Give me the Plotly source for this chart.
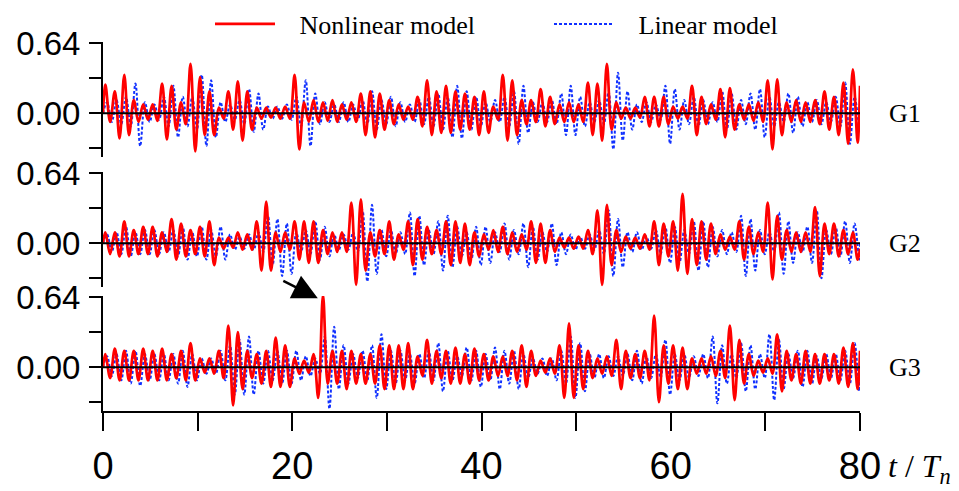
import plotly.graph_objects as go

# ---------------- data (peak / trough per response cycle, t/Tn) ----------------
nl1_peak = [.26,.20,.35,.12,.08,.08,.27,.25,.10,.45,.33,.20,.05,.20,.29,.20,.05,.05,.05,.06,
            .35,.10,.12,.10,.12,.08,.10,.18,.20,.18,.12,.08,.06,.15,.30,.20,.25,.20,.18,.15,
            .20,.06,.35,.30,.12,.12,.22,.15,.08,.10,.08,.28,.27,.45,.10,.05,.05,.15,.15,.15,
            .06,.06,.25,.15,.08,.22,.23,.08,.08,.10,.30,.31,.10,.12,.10,.12,.20,.15,.28,.40]
nl1_trough = [-.08,-.23,-.20,-.08,-.06,-.07,-.24,-.15,-.10,-.35,-.20,-.20,-.05,-.15,-.25,-.15,-.05,-.04,-.05,-.05,
              -.33,-.08,-.08,-.07,-.08,-.06,-.08,-.20,-.22,-.15,-.10,-.06,-.06,-.12,-.20,-.18,-.18,-.15,-.15,-.20,
              -.18,-.06,-.25,-.20,-.10,-.08,-.12,-.10,-.08,-.08,-.08,-.20,-.25,-.15,-.05,-.05,-.04,-.12,-.12,-.10,
              -.05,-.05,-.20,-.10,-.06,-.22,-.15,-.06,-.07,-.08,-.33,-.20,-.08,-.08,-.08,-.10,-.15,-.20,-.28,-.27]
li1_peak = [.10,.12,.15,.27,.10,.08,.15,.25,.15,.15,.35,.30,.10,.08,.12,.22,.18,.06,.06,.08,
            .15,.30,.18,.10,.08,.10,.08,.12,.20,.12,.15,.10,.08,.12,.15,.18,.15,.25,.20,.15,
            .10,.12,.15,.20,.25,.10,.10,.12,.18,.25,.15,.10,.12,.20,.37,.20,.08,.10,.08,.25,
            .22,.12,.15,.12,.10,.20,.18,.12,.18,.22,.15,.10,.18,.15,.10,.12,.10,.15,.28,.15]
li1_trough = [-.08,-.10,-.12,-.30,-.08,-.06,-.12,-.22,-.12,-.15,-.30,-.22,-.08,-.06,-.10,-.17,-.15,-.05,-.05,-.06,
              -.12,-.30,-.10,-.08,-.08,-.08,-.06,-.10,-.15,-.10,-.12,-.08,-.08,-.10,-.12,-.15,-.22,-.23,-.15,-.12,
              -.08,-.08,-.12,-.28,-.18,-.08,-.08,-.10,-.20,-.20,-.12,-.08,-.10,-.33,-.25,-.15,-.08,-.08,-.06,-.28,
              -.15,-.10,-.12,-.10,-.08,-.15,-.15,-.10,-.15,-.22,-.12,-.08,-.18,-.12,-.08,-.10,-.08,-.12,-.28,-.12]

nl2_peak = [.10,.10,.20,.12,.15,.15,.10,.22,.18,.12,.15,.20,.05,.05,.10,.08,.20,.38,.10,.10,
            .20,.20,.20,.12,.10,.10,.37,.40,.10,.12,.20,.08,.20,.22,.15,.12,.20,.20,.18,.10,
            .08,.12,.15,.10,.08,.20,.18,.12,.05,.05,.06,.12,.30,.35,.12,.06,.05,.08,.20,.18,
            .20,.45,.22,.20,.18,.08,.06,.20,.15,.10,.37,.25,.12,.10,.10,.33,.18,.18,.12,.10]
nl2_trough = [-.10,-.12,-.12,-.10,-.10,-.12,-.08,-.15,-.12,-.10,-.12,-.20,-.05,-.04,-.06,-.06,-.25,-.25,-.08,-.06,
              -.15,-.18,-.18,-.10,-.08,-.08,-.38,-.25,-.12,-.10,-.15,-.06,-.20,-.15,-.10,-.10,-.20,-.18,-.20,-.12,
              -.06,-.08,-.10,-.08,-.06,-.18,-.18,-.08,-.04,-.05,-.05,-.10,-.38,-.20,-.08,-.05,-.05,-.06,-.20,-.12,
              -.25,-.28,-.20,-.15,-.10,-.06,-.06,-.15,-.10,-.08,-.33,-.15,-.08,-.08,-.08,-.30,-.10,-.12,-.10,-.15]
li2_peak = [.08,.10,.15,.10,.12,.12,.10,.12,.15,.10,.15,.12,.15,.08,.06,.08,.10,.25,.22,.18,
            .10,.12,.20,.15,.08,.08,.10,.30,.35,.12,.12,.10,.28,.25,.12,.20,.25,.15,.10,.15,
            .15,.10,.18,.12,.18,.15,.10,.18,.10,.08,.06,.08,.12,.30,.22,.10,.10,.06,.12,.15,
            .15,.12,.20,.20,.15,.12,.10,.25,.22,.12,.10,.28,.20,.10,.15,.30,.12,.15,.20,.18]
li2_trough = [-.08,-.10,-.12,-.10,-.10,-.10,-.08,-.12,-.15,-.12,-.15,-.12,-.15,-.06,-.05,-.06,-.08,-.20,-.30,-.28,
              -.08,-.10,-.15,-.12,-.06,-.06,-.08,-.35,-.28,-.12,-.10,-.10,-.30,-.20,-.10,-.25,-.22,-.12,-.15,-.20,
              -.18,-.08,-.15,-.10,-.22,-.15,-.08,-.20,-.10,-.06,-.05,-.06,-.10,-.30,-.22,-.08,-.06,-.05,-.10,-.18,
              -.18,-.10,-.25,-.22,-.12,-.10,-.08,-.30,-.25,-.10,-.08,-.28,-.18,-.08,-.18,-.32,-.10,-.12,-.18,-.15]

nl3_peak = [.12,.17,.15,.15,.17,.15,.17,.12,.15,.22,.08,.08,.15,.38,.32,.15,.12,.15,.27,.20,
            .08,.06,.12,.66,.15,.15,.15,.12,.12,.20,.20,.20,.22,.10,.25,.15,.15,.18,.12,.17,
            .12,.10,.10,.15,.20,.15,.06,.08,.20,.40,.20,.15,.08,.10,.25,.15,.12,.15,.47,.20,
            .20,.18,.08,.08,.10,.15,.38,.25,.12,.06,.08,.30,.15,.12,.15,.12,.12,.12,.18,.22]
nl3_trough = [-.10,-.12,-.12,-.12,-.12,-.12,-.12,-.10,-.12,-.12,-.05,-.06,-.10,-.35,-.20,-.10,-.15,-.18,-.18,-.18,
              -.06,-.05,-.28,-.15,-.15,-.20,-.15,-.15,-.15,-.20,-.20,-.20,-.20,-.08,-.15,-.10,-.15,-.15,-.15,-.12,
              -.12,-.08,-.08,-.12,-.18,-.08,-.05,-.06,-.28,-.28,-.20,-.10,-.06,-.08,-.20,-.10,-.10,-.12,-.32,-.15,
              -.20,-.20,-.06,-.06,-.08,-.10,-.30,-.15,-.08,-.05,-.06,-.22,-.12,-.15,-.15,-.15,-.12,-.15,-.18,-.20]
li3_peak = [.10,.12,.15,.15,.12,.12,.12,.12,.15,.12,.08,.08,.15,.20,.25,.28,.15,.15,.15,.15,
            .15,.10,.08,.28,.37,.20,.12,.15,.20,.30,.15,.15,.12,.12,.15,.22,.15,.10,.18,.15,
            .12,.18,.15,.15,.12,.08,.08,.08,.15,.28,.22,.12,.12,.10,.10,.12,.15,.10,.12,.25,
            .12,.12,.10,.12,.28,.20,.12,.22,.20,.12,.30,.25,.12,.15,.15,.10,.12,.12,.15,.22]
li3_trough = [-.08,-.12,-.15,-.17,-.12,-.12,-.12,-.15,-.18,-.12,-.06,-.06,-.12,-.25,-.25,-.25,-.15,-.12,-.15,-.15,
              -.12,-.08,-.06,-.38,-.20,-.15,-.10,-.12,-.28,-.20,-.15,-.12,-.15,-.10,-.12,-.22,-.12,-.08,-.12,-.18,
              -.12,-.20,-.15,-.20,-.10,-.06,-.08,-.12,-.15,-.28,-.22,-.10,-.10,-.08,-.08,-.12,-.15,-.10,-.10,-.25,
              -.12,-.10,-.08,-.10,-.33,-.15,-.10,-.22,-.20,-.10,-.30,-.20,-.10,-.18,-.15,-.10,-.10,-.12,-.15,-.22]

end_values = {"nl1": .25, "li1": 0.0, "nl2": -.05, "li2": 0.0, "nl3": .15, "li3": -.10}
panel_labels = ["G1", "G2", "G3"]
x_tick_vals = [0, 10, 20, 30, 40, 50, 60, 70, 80]
x_tick_text = ["0", "", "20", "", "40", "", "60", "", "80"]
y_tick_vals = [-0.32, 0.0, 0.32, 0.64]
y_tick_text = ["", "0.00", "", "0.64"]


def series(peaks, troughs, end, phase=0.0):
    xs, ys = [0.0], [0.0]
    for k, (p, q) in enumerate(zip(peaks, troughs)):
        xs += [k + 0.25 + phase, k + 0.75 + phase]
        ys += [p, q]
    xs.append(80.0)
    ys.append(end)
    return xs, ys


# page body has an 8px margin: figure drawn 8px in from the window's top-left
OFF = 8
W, H = 959 - OFF, 491 - OFF


def px(x):
    return (x - OFF) / W


def py(y):
    return 1 - (y - OFF) / H


x_dom = [px(103), px(860)]
panel_px = [(42, 157), (172, 287), (296, 411)]
y_range = [-0.40, 0.65]

RED = "#ff0000"
BLUE = "#1030ff"
SERIF = "Liberation Serif, Times New Roman, serif"
SANS = "Liberation Sans, Arial, sans-serif"

fig = go.Figure()
sets = [(nl1_peak, nl1_trough, li1_peak, li1_trough, "1"),
        (nl2_peak, nl2_trough, li2_peak, li2_trough, "2"),
        (nl3_peak, nl3_trough, li3_peak, li3_trough, "3")]
for i, (np_, nt, lp, lt, s) in enumerate(sets):
    yref = "y" if i == 0 else f"y{i+1}"
    bx, by = series(lp, lt, end_values["li" + s], phase=0.18)
    fig.add_trace(go.Scatter(x=bx, y=by, xaxis="x", yaxis=yref, mode="lines",
                             line=dict(color=BLUE, width=2, dash="3px,2px", shape="spline", smoothing=1.0),
                             name="&nbsp;&nbsp;&nbsp;Linear model", showlegend=(i == 0), legend="legend2"))
    rx, ry = series(np_, nt, end_values["nl" + s])
    fig.add_trace(go.Scatter(x=rx, y=ry, xaxis="x", yaxis=yref, mode="lines",
                             line=dict(color=RED, width=2.7, shape="spline", smoothing=1.0),
                             name="&nbsp;&nbsp;&nbsp;Nonlinear model", showlegend=(i == 0), legend="legend"))

leg_common = dict(orientation="h", xanchor="left", yanchor="middle",
                  font=dict(family=SERIF, size=26, color="black"),
                  itemwidth=60, bgcolor="rgba(0,0,0,0)")
layout = dict(
    width=W, height=H, autosize=False,
    margin=dict(l=0, r=0, t=0, b=0, autoexpand=False),
    paper_bgcolor="white", plot_bgcolor="white",
    showlegend=True,
    legend=dict(x=px(210), y=py(24), **leg_common),
    legend2=dict(x=px(549), y=py(24), **leg_common),
    xaxis=dict(domain=x_dom, range=[0, 80], anchor="y3", showgrid=False, zeroline=False,
               automargin=False,
               showline=True, linecolor="black", linewidth=2,
               ticks="outside", ticklen=18, tickwidth=2, tickcolor="black",
               tickvals=x_tick_vals, ticktext=x_tick_text, ticklabelstandoff=2,
               tickfont=dict(family=SANS, size=38, color="black")),
)
for i, (top, bot) in enumerate(panel_px):
    key = "yaxis" if i == 0 else f"yaxis{i+1}"
    layout[key] = dict(domain=[py(bot), py(top)], range=y_range, anchor="x",
                       automargin=False,
                       showgrid=False, zeroline=False, showline=True, linecolor="black", linewidth=2,
                       ticks="outside", ticklen=12, tickwidth=2, tickcolor="black",
                       tickvals=y_tick_vals, ticktext=y_tick_text, ticklabelstandoff=2,
                       tickfont=dict(family=SANS, size=33, color="black"))
fig.update_layout(**layout)

shapes = []
annotations = []
for i in range(3):
    yref = "y" if i == 0 else f"y{i+1}"
    shapes.append(dict(type="line", xref="x", yref=yref, x0=0, x1=80, y0=0, y1=0,
                       line=dict(color="black", width=2), layer="above"))
    annotations.append(dict(text=panel_labels[i], xref="paper", yref=yref, x=px(887), y=0.0,
                            xanchor="left", yanchor="middle", showarrow=False,
                            font=dict(family=SERIF, size=26, color="black")))
fig.update_layout(shapes=shapes)

annotations.append(dict(text="<i>t</i> / <i>T</i><sub><i>n</i></sub>", xref="paper", yref="paper",
                        x=px(886), y=py(468), xanchor="left", yanchor="middle", showarrow=False,
                        font=dict(family=SERIF, size=32, color="black")))
annotations.append(dict(text="", xref="x", yref="y3", x=22.7, y=0.63, ax=-36, ay=-18,
                        showarrow=True, arrowhead=2, arrowsize=2.0, arrowwidth=2.5, arrowcolor="black"))
fig.update_layout(annotations=annotations)

fig.write_html("out.html")
